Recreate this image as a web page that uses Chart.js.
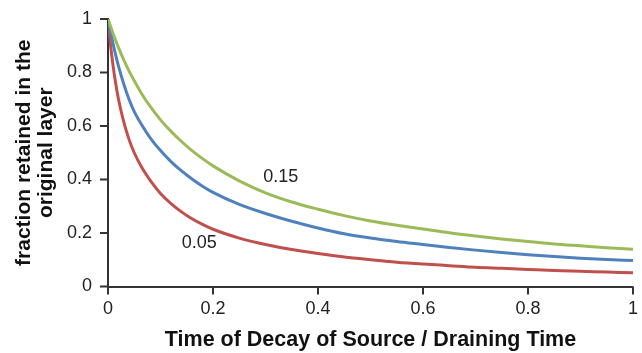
<!DOCTYPE html>
<html lang="en">
<head>
    <meta charset="UTF-8">
    <title>Fraction retained in the original layer</title>
    <script src="https://cdn.jsdelivr.net/npm/chart.js"></script>
    <style>
        html, body { margin: 0; padding: 0; background: #fff; }
        #wrap { width: 642px; height: 353px; }
    </style>
</head>
<body>
    <div id="wrap"><canvas id="myChart"></canvas></div>
    <script>
        // Values
        const times = [0, 0.005, 0.01, 0.015, 0.02, 0.03, 0.04, 0.05, 0.065, 0.08, 0.1, 0.12, 0.14, 0.16, 0.18, 0.2,
                       0.25, 0.3, 0.35, 0.4, 0.45, 0.5, 0.55, 0.6, 0.65, 0.7, 0.75, 0.8, 0.85, 0.9, 0.95, 1.0];
        const green015 = [1, 0.972, 0.944, 0.918, 0.893, 0.847, 0.806, 0.769, 0.718, 0.674, 0.623, 0.58, 0.542, 0.508, 0.478, 0.451,
                          0.395, 0.35, 0.316, 0.289, 0.265, 0.245, 0.229, 0.215, 0.201, 0.189, 0.178, 0.168, 0.159, 0.152, 0.145, 0.139];
        const blue010 = [1, 0.95, 0.904, 0.862, 0.824, 0.757, 0.70, 0.654, 0.602, 0.557, 0.508, 0.467, 0.432, 0.402, 0.375, 0.352,
                         0.307, 0.273, 0.244, 0.219, 0.197, 0.181, 0.168, 0.157, 0.146, 0.136, 0.127, 0.119, 0.112, 0.106, 0.101, 0.097];
        const red005 = [1, 0.90, 0.82, 0.755, 0.70, 0.615, 0.55, 0.50, 0.443, 0.398, 0.348, 0.31, 0.279, 0.253, 0.232, 0.214,
                        0.181, 0.157, 0.138, 0.123, 0.11, 0.10, 0.091, 0.084, 0.078, 0.072, 0.068, 0.064, 0.06, 0.057, 0.054, 0.051];

        // curve labels placed in data coordinates
        const curveLabels = ['0.15', '0.05'];
        const curveLabelX = [0.329, 0.174];
        const curveLabelY = [0.41, 0.163];

        const toPoints = (ys) => times.map((t, i) => ({ x: t, y: ys[i] }));
        const FONT = '"Liberation Sans", Arial, sans-serif';
        const AXIS_COLOR = '#333';

        const curveLabelPlugin = {
            id: 'curveLabels',
            afterDatasetsDraw(chart) {
                const c = chart.ctx;
                const xs = chart.scales.x, ys = chart.scales.y;
                c.save();
                c.font = '18px ' + FONT;
                c.fillStyle = '#222';
                c.textAlign = 'center';
                c.textBaseline = 'middle';
                curveLabels.forEach((txt, i) => {
                    c.fillText(txt, xs.getPixelForValue(curveLabelX[i]), ys.getPixelForValue(curveLabelY[i]));
                });
                c.restore();
            }
        };

        // outside tick marks on both axes
        const tickMarkPlugin = {
            id: 'tickMarks',
            afterDraw(chart) {
                const c = chart.ctx;
                const xs = chart.scales.x, ys = chart.scales.y;
                const len = 8;
                c.save();
                c.strokeStyle = AXIS_COLOR;
                c.lineWidth = 2;
                c.beginPath();
                for (let v = 0; v <= 1.0001; v += 0.2) {
                    const px = xs.getPixelForValue(v);
                    c.moveTo(px, ys.bottom);
                    c.lineTo(px, ys.bottom + len);
                    const py = ys.getPixelForValue(v);
                    c.moveTo(xs.left - len, py);
                    c.lineTo(xs.left, py);
                }
                c.stroke();
                c.restore();
            }
        };

        const lineStyle = {
            borderWidth: 3,
            pointRadius: 0,
            fill: false,
            cubicInterpolationMode: 'monotone'
        };

        const fmt = (v) => String(Math.round(v * 10) / 10);

        const ctx = document.getElementById('myChart').getContext('2d');
        const myChart = new Chart(ctx, {
            type: 'line',
            data: {
                datasets: [
                    { label: '0.15', data: toPoints(green015), borderColor: '#9BBB59', ...lineStyle },
                    { label: '0.1', data: toPoints(blue010), borderColor: '#4F81BD', ...lineStyle },
                    { label: '0.05', data: toPoints(red005), borderColor: '#C0504D', ...lineStyle }
                ]
            },
            options: {
                responsive: true,
                maintainAspectRatio: false,
                animation: false,
                layout: { padding: { top: 19, right: 5, left: 0, bottom: 0 } },
                plugins: {
                    legend: { display: false },
                    tooltip: { enabled: false }
                },
                scales: {
                    x: {
                        type: 'linear',
                        min: 0,
                        max: 1,
                        afterFit(scale) { scale.height = 66.5; },
                        border: { color: AXIS_COLOR, width: 2 },
                        grid: { drawOnChartArea: false, drawTicks: true, tickLength: 8, color: 'rgba(0,0,0,0)' },
                        ticks: {
                            stepSize: 0.2,
                            padding: 4,
                            color: '#222',
                            callback: fmt,
                            font: { family: FONT, size: 18 }
                        },
                        title: {
                            display: true,
                            text: 'Time of Decay of Source / Draining Time',
                            color: '#111',
                            padding: { top: 2, bottom: 0 },
                            font: { family: FONT, size: 21.5, weight: 'bold', lineHeight: 1.2 }
                        }
                    },
                    y: {
                        min: 0,
                        max: 1,
                        afterFit(scale) { scale.width = 108; },
                        border: { color: AXIS_COLOR, width: 2 },
                        grid: { drawOnChartArea: false, drawTicks: true, tickLength: 8, color: 'rgba(0,0,0,0)' },
                        ticks: {
                            stepSize: 0.2,
                            padding: 8,
                            color: '#222',
                            callback: fmt,
                            font: { family: FONT, size: 18 }
                        },
                        title: {
                            display: true,
                            text: ['fraction retained in the', 'original layer'],
                            color: '#111',
                            padding: { top: 13, bottom: 0 },
                            font: { family: FONT, size: 21, weight: 'bold', lineHeight: 1.05 }
                        }
                    }
                }
            },
            plugins: [curveLabelPlugin, tickMarkPlugin]
        });
    </script>
</body>
</html>
